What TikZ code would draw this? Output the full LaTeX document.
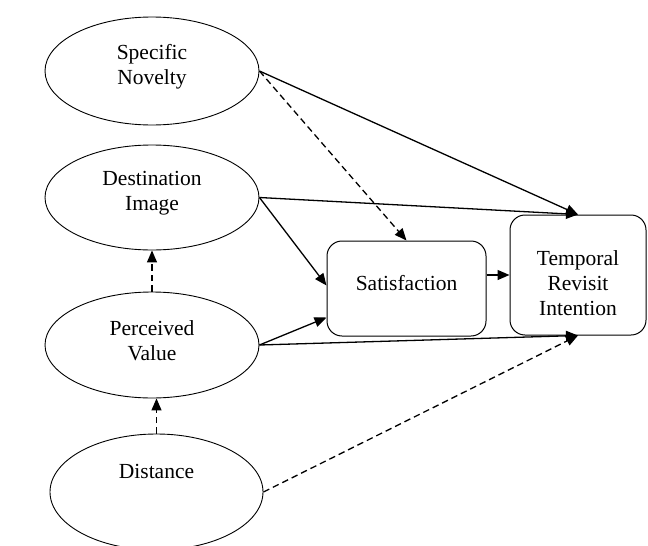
\documentclass[tikz,border=0pt]{standalone}
\usepackage{fontspec}
\setmainfont{Liberation Serif}
\usetikzlibrary{shapes.geometric,arrows.meta}
\begin{document}
\begin{tikzpicture}[x=1pt,y=-1pt,
  txt/.style={font=\fontsize{21.5}{25}\selectfont,align=center,inner sep=0pt},
  latent/.style={ellipse,draw,line width=0.9pt,minimum width=214pt,minimum height=106pt,inner sep=0pt},
  obsbox/.style={draw,rounded corners=15pt,line width=1pt,inner sep=0pt},
  arr/.style={line width=1.3pt,-{Triangle[length=12pt,width=10pt]}},
  darr/.style={arr,dash pattern=on 6.5pt off 4pt}]
\useasboundingbox (0,0) rectangle (648,546);
\fill[white] (0,0) rectangle (648,546);

\node[latent,minimum height=108pt,label={[txt,yshift=4pt]center:Specific\\Novelty}] (sn) at (152,71) {};
\node[latent,minimum height=105pt,label={[txt,yshift=4pt]center:Destination\\Image}] (di) at (152,197.5) {};
\node[latent,label={[txt,yshift=4pt]center:Perceived\\Value}] (pv) at (152,345) {};
\node[latent,minimum width=213pt,minimum height=116pt,label={[txt,yshift=21pt]center:Distance}] (dist) at (156.5,492) {};

\node[obsbox,minimum width=159pt,minimum height=95pt,label={[txt,yshift=5pt]center:Satisfaction}] (sat) at (406.5,288.5) {};
\node[obsbox,minimum width=136pt,minimum height=120pt,label={[txt,yshift=-8pt]center:Temporal\\Revisit\\Intention}] (tri) at (578,275) {};

\draw[arr] (sn.east) -- (tri.north);
\draw[darr] (sn.east) -- (sat.north);
\draw[arr] (di.east) -- (tri.north);
\draw[arr] (di.east) -- ([yshift=3pt]sat.west);
\draw[arr] (pv.east) -- ([yshift=-29pt]sat.west);
\draw[arr] (pv.east) -- (tri.south);
\draw[darr] (dist.east) -- (tri.south);
\draw[arr] (sat.east |- tri.west) -- (tri.west);
\draw[darr] (pv.north) -- (di.south);
\draw[darr] (dist.north) -- (dist.north |- pv.south);
\end{tikzpicture}
\end{document}
